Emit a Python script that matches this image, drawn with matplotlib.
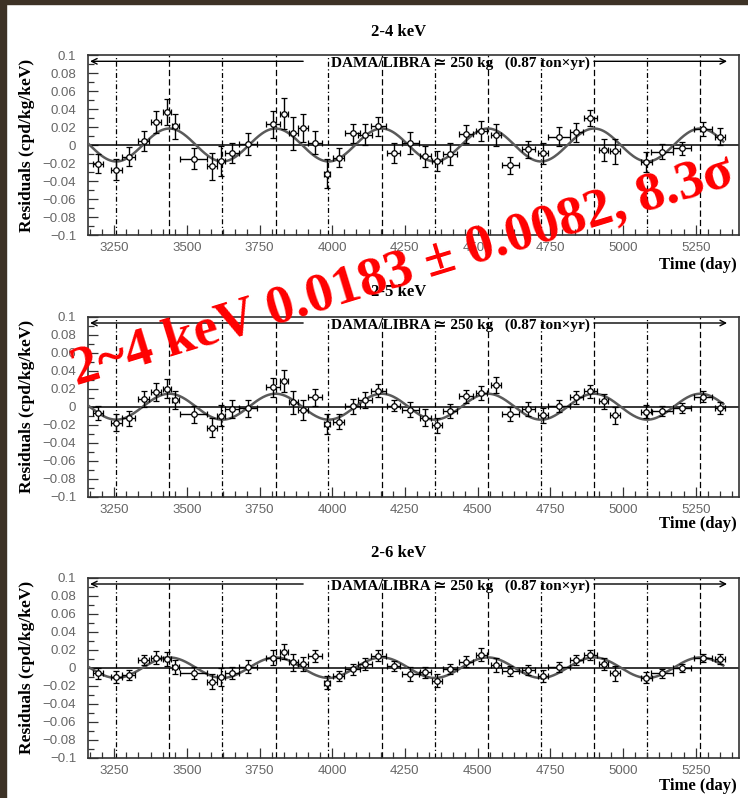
import numpy as np
import matplotlib.pyplot as plt
from matplotlib.patches import Rectangle
from matplotlib.ticker import MultipleLocator

# bin centres (day) and half widths, shared by the three energy windows
days = [3194, 3258, 3300, 3351, 3395, 3431, 3460, 3523, 3586, 3617, 3655, 3709, 3796, 3835,
        3866, 3899, 3941, 3982, 4022, 4070, 4113, 4159, 4211, 4268, 4320, 4360, 4405, 4460,
        4513, 4562, 4612, 4675, 4726, 4780, 4840, 4888, 4933, 4973, 5080, 5134, 5202, 5274, 5334]
day_err = [17, 19, 23, 20, 17, 14, 12, 46, 16, 13, 24, 31, 24, 14, 16, 16, 25, 9, 19, 26, 23, 25,
           23, 29, 19, 18, 23, 25, 18, 17, 29, 23, 17, 37, 23, 23, 17, 18, 19, 37, 31, 31, 17]

# residual rates (cpd/kg/keV)
res_2_4 = [-0.0206, -0.0274, -0.0131, 0.0045, 0.0255, 0.0364, 0.0206, -0.0150, -0.0236, -0.0176,
           -0.0086, 0.0010, 0.0233, 0.0349, 0.0131, 0.0188, 0.0026, -0.0319, -0.0139, 0.0128,
           0.0113, 0.0206, -0.0086, 0.0019, -0.0124, -0.0180, -0.0101, 0.0120, 0.0158, 0.0113,
           -0.0225, -0.0049, -0.0094, 0.0094, 0.0139, 0.0300, -0.0056, -0.0068, -0.0188, -0.0075,
           -0.0038, 0.0176, 0.0094]
err_2_4 = [0.0101, 0.0113, 0.0105, 0.0116, 0.0124, 0.0143, 0.0143, 0.0113, 0.0150, 0.0169, 0.0109,
           0.0120, 0.0150, 0.0169, 0.0184, 0.0158, 0.0131, 0.0158, 0.0105, 0.0109, 0.0116, 0.0105,
           0.0109, 0.0120, 0.0116, 0.0113, 0.0120, 0.0098, 0.0113, 0.0120, 0.0094, 0.0094, 0.0120,
           0.0105, 0.0101, 0.0090, 0.0120, 0.0139, 0.0113, 0.0083, 0.0075, 0.0079, 0.0094]

res_2_5 = [-0.0071, -0.0176, -0.0131, 0.0086, 0.0161, 0.0199, 0.0075, -0.0083, -0.0233, -0.0101,
           -0.0026, -0.0019, 0.0218, 0.0285, 0.0049, -0.0038, 0.0105, -0.0195, -0.0165, 0.0004,
           0.0075, 0.0180, 0.0011, -0.0034, -0.0120, -0.0206, -0.0045, 0.0116, 0.0154, 0.0244,
           -0.0083, -0.0026, -0.0094, 0.0011, 0.0105, 0.0169, 0.0060, -0.0094, -0.0056, -0.0045,
           -0.0019, 0.0113, -0.0015]
err_2_5 = [0.0075, 0.0090, 0.0079, 0.0094, 0.0098, 0.0105, 0.0098, 0.0094, 0.0105, 0.0116, 0.0098,
           0.0098, 0.0105, 0.0124, 0.0131, 0.0113, 0.0094, 0.0109, 0.0079, 0.0083, 0.0090, 0.0075,
           0.0064, 0.0083, 0.0094, 0.0083, 0.0075, 0.0075, 0.0079, 0.0090, 0.0079, 0.0075, 0.0083,
           0.0068, 0.0075, 0.0071, 0.0083, 0.0094, 0.0075, 0.0056, 0.0056, 0.0060, 0.0064]

res_2_6 = [-0.0064, -0.0101, -0.0083, 0.0086, 0.0113, 0.0094, 0.0004, -0.0056, -0.0158, -0.0101,
           -0.0056, 0.0011, 0.0113, 0.0180, 0.0060, 0.0041, 0.0131, -0.0165, -0.0094, -0.0019,
           0.0041, 0.0135, 0.0023, -0.0068, -0.0053, -0.0146, -0.0015, 0.0068, 0.0143, 0.0030,
           -0.0034, -0.0026, -0.0094, 0.0011, 0.0086, 0.0143, 0.0041, -0.0064, -0.0109, -0.0064,
           -0.0008, 0.0105, 0.0094]
err_2_6 = [0.0056, 0.0068, 0.0056, 0.0060, 0.0075, 0.0075, 0.0079, 0.0064, 0.0083, 0.0098, 0.0064,
           0.0075, 0.0083, 0.0079, 0.0094, 0.0083, 0.0071, 0.0075, 0.0056, 0.0060, 0.0064, 0.0064,
           0.0056, 0.0079, 0.0064, 0.0071, 0.0056, 0.0060, 0.0071, 0.0075, 0.0053, 0.0056, 0.0068,
           0.0056, 0.0056, 0.0056, 0.0064, 0.0079, 0.0060, 0.0049, 0.0045, 0.0045, 0.0053]

titles = ['2-4 keV', '2-5 keV', '2-6 keV']
amplitudes = [0.0183, 0.0144, 0.0114]
period = 365.25
phase = 152.5  # June 2nd, days counted from Jan 1st 1995

# Dec 2nd (minimum) and June 2nd (maximum) markers
dec_lines = [3257, 3622, 3987, 4353, 4718, 5083]
jun_lines = [3440, 3805, 4170, 4535, 4900, 5266]

x_ticks = [3250, 3500, 3750, 4000, 4250, 4500, 4750, 5000, 5250]
y_ticks = [0.1, 0.08, 0.06, 0.04, 0.02, 0, -0.02, -0.04, -0.06, -0.08, -0.1]
y_labels = ['0.1', '0.08', '0.06', '0.04', '0.02', '0', '\u22120.02', '\u22120.04',
            '\u22120.06', '\u22120.08', '\u22120.1']

W, H = 748, 798
serif = ['Liberation Serif', 'DejaVu Serif']
sans = ['Liberation Sans', 'DejaVu Sans']

fig = plt.figure(figsize=(W / 100, H / 100), dpi=100)
fig.patch.set_facecolor('white')

panels = [(res_2_4, err_2_4), (res_2_5, err_2_5), (res_2_6, err_2_6)]
tops = [55, 316.7, 577.7]
title_y = [32, 292, 553]
xlabel_y = [265, 524, 786]

for k in range(3):
    res, err = panels[k]
    top = tops[k]
    ax = fig.add_axes([88 / W, 1 - (top + 180) / H, (739 - 88) / W, 180 / H])
    ax.set_xlim(3160, 5399)
    ax.set_ylim(-0.1, 0.1)

    for d in dec_lines:
        ax.axvline(d, color='k', lw=0.9, ls=(0, (4, 2, 1, 2)), zorder=1)
    for d in jun_lines:
        ax.axvline(d, color='k', lw=0.9, ls=(0, (5, 2.5)), zorder=1)
    ax.axhline(0, color='k', lw=1.1, zorder=2)

    # fitted annual modulation
    tt = np.linspace(3160, 5345, 600)
    ax.plot(tt, amplitudes[k] * np.cos(2 * np.pi * (tt - phase) / period),
            color='#5a5a5a', lw=1.8, zorder=3)

    ax.errorbar(days, res, xerr=day_err, yerr=err, fmt='o', ms=4, mfc='white', mec='k',
                mew=0.9, ecolor='k', elinewidth=1.0, capsize=2.2, capthick=1.0, zorder=4)

    # running period arrows and label
    ax.annotate('', xy=(3167, 0.093), xytext=(3900, 0.093),
                arrowprops=dict(arrowstyle='->', color='k', lw=1, shrinkA=0, shrinkB=0))
    ax.annotate('', xy=(5358, 0.093), xytext=(4900, 0.093),
                arrowprops=dict(arrowstyle='->', color='k', lw=1, shrinkA=0, shrinkB=0))
    ax.text(3996, 0.0905, 'DAMA/LIBRA \u2243 250 kg   (0.87 ton\u00d7yr)', family=serif,
            weight='bold', fontsize=11, va='center', ha='left', zorder=5)

    ax.set_xticks(x_ticks)
    ax.xaxis.set_minor_locator(MultipleLocator(250 / 6))
    ax.set_yticks(y_ticks, labels=y_labels)
    ax.yaxis.set_minor_locator(MultipleLocator(0.01))
    ax.tick_params(which='both', direction='in', color='#333333', labelcolor='#666666',
                   labelsize=9.5, width=0.9)
    ax.tick_params(which='major', length=7)
    ax.tick_params(axis='x', which='major', pad=5)
    ax.tick_params(axis='y', which='major', pad=8.5)
    ax.tick_params(which='minor', length=4)
    for lab in ax.get_xticklabels() + ax.get_yticklabels():
        lab.set_family(sans)
    for sp in ax.spines.values():
        sp.set_color('#333333')
        sp.set_linewidth(1.2)

    fig.text(399 / W, 1 - title_y[k] / H, titles[k], family=serif, weight='bold',
             fontsize=12, ha='center', va='center')
    fig.text(737 / W, 1 - xlabel_y[k] / H, 'Time (day)', family=serif, weight='bold',
             fontsize=12, ha='right', va='center')
    fig.text(27 / W, 1 - (top + 90) / H, 'Residuals (cpd/kg/keV)', family=serif,
             weight='bold', fontsize=12.5, rotation=90, ha='center', va='center')

# red note written across the plots
fig.text(76 / W, 1 - 385 / H, '2~4 keV 0.0183 \u00b1 0.0082, 8.3\u03c3', family=serif,
         weight='bold', fontsize=39.5, color='red', rotation=17, rotation_mode='anchor',
         ha='left', va='baseline', zorder=20)

# dark slide edge along the top and left
fig.patches.append(Rectangle((0, 1 - 4 / H), 1, 4 / H, transform=fig.transFigure,
                             color='#3d3226', zorder=30))
fig.patches.append(Rectangle((0, 0), 6 / W, 1, transform=fig.transFigure,
                             color='#3d3226', zorder=30))

fig.savefig('out.png', dpi=100)
